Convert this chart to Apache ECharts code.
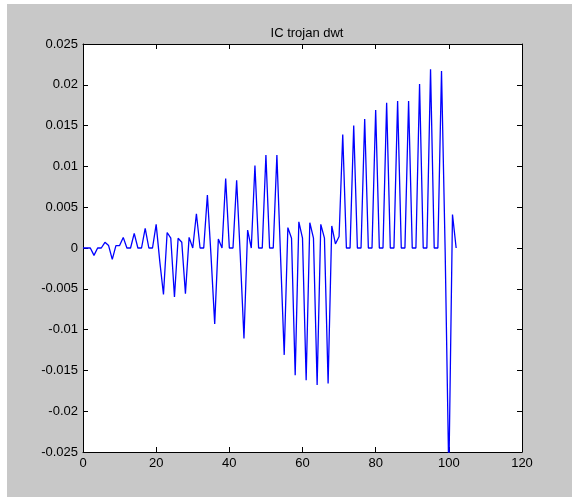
<!DOCTYPE html>
<html>
<head>
<meta charset="utf-8">
<script src="https://cdn.jsdelivr.net/npm/echarts@6/dist/echarts.min.js"></script>
<style>
html, body { margin: 0; padding: 0; background: #fff; }
#chart { position: absolute; left: 7px; top: 4px; width: 565px; height: 493px; background: #c8c8c8; }
</style>
</head>
<body>
<div id="chart"></div>
<script>
var xTicks = [0, 20, 40, 60, 80, 100, 120];
var yTicks = [-0.025, -0.02, -0.015, -0.01, -0.005, 0, 0.005, 0.01, 0.015, 0.02, 0.025];

// sample index along the signal
var sampleIndex = [
  0, 1, 2, 3, 4, 5, 6, 7, 8, 9,
  10, 11, 12, 13, 14, 15, 16, 17, 18, 19,
  20, 21, 22, 23, 24, 25, 26, 27, 28, 29,
  30, 31, 32, 33, 34, 35, 36, 37, 38, 39,
  40, 41, 42, 43, 44, 45, 46, 47, 48, 49,
  50, 51, 52, 53, 54, 55, 56, 57, 58, 59,
  60, 61, 62, 63, 64, 65, 66, 67, 68, 69,
  70, 71, 72, 73, 74, 75, 76, 77, 78, 79,
  80, 81, 82, 83, 84, 85, 86, 87, 88, 89,
  90, 91, 92, 93, 94, 95, 96, 97, 98, 99,
  100, 101, 102
];

// dwt coefficients
var coefficient = [
  0, 0, 0, -0.0009, 0, 0, 0.0007, 0.0003, -0.0014, 0.0003,
  0.0003, 0.0013, 0, 0, 0.0018, 0, 0, 0.0024, 0, 0,
  0.0029, -0.0017, -0.0057, 0.0019, 0.0012, -0.006, 0.0012, 0.0007, -0.0056, 0.0013,
  0, 0.0042, 0, 0, 0.0065, -0.001, -0.0093, 0.0011, 0, 0.0085,
  0, 0, 0.0083, -0.001, -0.0111, 0.0022, 0, 0.0101, 0, 0,
  0.0114, 0, 0, 0.0114, -0.001, -0.0131, 0.0025, 0.0012, -0.0156, 0.0032,
  0.0012, -0.0162, 0.0031, 0.0012, -0.0168, 0.0029, 0.0012, -0.0166, 0.0027, 0.0005,
  0.0014, 0.0139, 0, 0, 0.015, 0, 0, 0.0158, 0, 0,
  0.0169, 0, 0, 0.0178, 0, 0, 0.018, 0, 0, 0.018,
  0, 0, 0.0201, 0, 0, 0.0219, 0, 0, 0.0217, -0.0005,
  -0.028, 0.0041, 0
];

var chart = echarts.init(document.getElementById('chart'));

var font = 'Liberation Sans, Arial, sans-serif';
var tickStyle = { inside: true, length: 5, lineStyle: { color: '#000', width: 1 } };
var lineStyle = { show: true, onZero: false, lineStyle: { color: '#000', width: 1 } };

function fmt(v) {
  return String(+v.toFixed(3));
}

function xAxis(pos, labels) {
  return {
    type: 'value',
    position: pos,
    min: xTicks[0],
    max: xTicks[xTicks.length - 1],
    interval: xTicks[1] - xTicks[0],
    axisLine: lineStyle,
    axisTick: tickStyle,
    splitLine: { show: false },
    axisLabel: { show: labels, color: '#000', fontSize: 13, fontFamily: font, margin: 5 }
  };
}

function yAxis(pos, labels) {
  return {
    type: 'value',
    position: pos,
    min: yTicks[0],
    max: yTicks[yTicks.length - 1],
    interval: 0.005,
    axisLine: lineStyle,
    axisTick: tickStyle,
    splitLine: { show: false },
    axisLabel: { show: labels, color: '#000', fontSize: 13, fontFamily: font, margin: 5, formatter: fmt }
  };
}

chart.setOption({
  animation: false,
  backgroundColor: 'transparent',
  title: {
    text: 'IC trojan dwt',
    left: 295,
    top: 18,
    textAlign: 'center',
    textStyle: { color: '#000', fontSize: 13, fontWeight: 'normal', fontFamily: font }
  },
  grid: {
    left: 76,
    top: 40,
    width: 439,
    height: 408,
    show: true,
    backgroundColor: '#fff',
    borderWidth: 0
  },
  xAxis: [xAxis('bottom', true), xAxis('top', false)],
  yAxis: [yAxis('left', true), yAxis('right', false)],
  series: [{
    type: 'line',
    xAxisIndex: 0,
    yAxisIndex: 0,
    data: sampleIndex.map(function (x, i) { return [x, coefficient[i]]; }),
    showSymbol: false,
    clip: true,
    lineStyle: { color: '#0000ff', width: 1.3 }
  }]
});
</script>
</body>
</html>
